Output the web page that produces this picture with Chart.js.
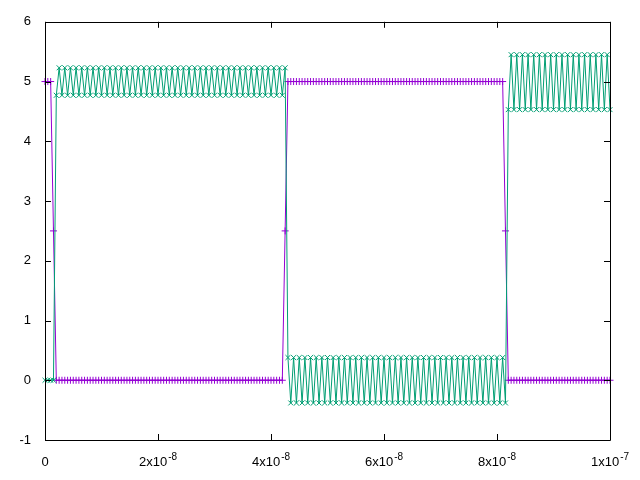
<!DOCTYPE html>
<html>
<head>
<meta charset="utf-8">
<script src="https://cdn.jsdelivr.net/npm/chart.js@4/dist/chart.umd.min.js"></script>
<style>
  html, body { margin: 0; padding: 0; background: #fff; }
  canvas { display: block; }
</style>
</head>
<body>
<canvas id="myChart" width="640" height="480"></canvas>
<script>
'use strict'

// sample times in ns (0.5 ns step)
const timeNs = [
    0,0.5,1,1.5,2,2.5,3,3.5,4,4.5,5,5.5,6,6.5,7,7.5,8,8.5,9,9.5,
    10,10.5,11,11.5,12,12.5,13,13.5,14,14.5,15,15.5,16,16.5,17,17.5,18,18.5,19,19.5,
    20,20.5,21,21.5,22,22.5,23,23.5,24,24.5,25,25.5,26,26.5,27,27.5,28,28.5,29,29.5,
    30,30.5,31,31.5,32,32.5,33,33.5,34,34.5,35,35.5,36,36.5,37,37.5,38,38.5,39,39.5,
    40,40.5,41,41.5,42,42.5,43,43.5,44,44.5,45,45.5,46,46.5,47,47.5,48,48.5,49,49.5,
    50,50.5,51,51.5,52,52.5,53,53.5,54,54.5,55,55.5,56,56.5,57,57.5,58,58.5,59,59.5,
    60,60.5,61,61.5,62,62.5,63,63.5,64,64.5,65,65.5,66,66.5,67,67.5,68,68.5,69,69.5,
    70,70.5,71,71.5,72,72.5,73,73.5,74,74.5,75,75.5,76,76.5,77,77.5,78,78.5,79,79.5,
    80,80.5,81,81.5,82,82.5,83,83.5,84,84.5,85,85.5,86,86.5,87,87.5,88,88.5,89,89.5,
    90,90.5,91,91.5,92,92.5,93,93.5,94,94.5,95,95.5,96,96.5,97,97.5,98,98.5,99,99.5,
    100
];

// purple trace (+ markers)
const inputV = [
    5,5,5,2.5,
    0,0,0,0,0,0,0,0,0,0,0,0,0,0,0,0,0,0,0,0,
    0,0,0,0,0,0,0,0,0,0,0,0,0,0,0,0,0,0,0,0,
    0,0,0,0,0,0,0,0,0,0,0,0,0,0,0,0,0,0,0,0,
    0,0,0,0,0,0,0,0,0,0,0,0,0,0,0,0,0,0,0,0,
    0,
    2.5,
    5,5,5,5,5,5,5,5,5,5,5,5,5,5,5,5,5,5,5,5,
    5,5,5,5,5,5,5,5,5,5,5,5,5,5,5,5,5,5,5,5,
    5,5,5,5,5,5,5,5,5,5,5,5,5,5,5,5,5,5,5,5,
    5,5,5,5,5,5,5,5,5,5,5,5,5,5,5,5,5,
    2.5,
    0,0,0,0,0,0,0,0,0,0,0,0,0,0,0,0,0,0,0,0,
    0,0,0,0,0,0,0,0,0,0,0,0,0,0,0,0,0
];

// teal trace (x markers)
const outputV = [
    0,0,0,0,
    4.77,5.23,4.77,5.23,4.77,5.23,4.77,5.23,4.77,5.23,4.77,5.23,4.77,5.23,4.77,5.23,4.77,5.23,4.77,5.23,
    4.77,5.23,4.77,5.23,4.77,5.23,4.77,5.23,4.77,5.23,4.77,5.23,4.77,5.23,4.77,5.23,4.77,5.23,4.77,5.23,
    4.77,5.23,4.77,5.23,4.77,5.23,4.77,5.23,4.77,5.23,4.77,5.23,4.77,5.23,4.77,5.23,4.77,5.23,4.77,5.23,
    4.77,5.23,4.77,5.23,4.77,5.23,4.77,5.23,4.77,5.23,4.77,5.23,4.77,5.23,4.77,5.23,4.77,5.23,4.77,5.23,
    4.77,5.23,
    0.38,-0.38,0.38,-0.38,0.38,-0.38,0.38,-0.38,0.38,-0.38,0.38,-0.38,0.38,-0.38,0.38,-0.38,0.38,-0.38,0.38,-0.38,
    0.38,-0.38,0.38,-0.38,0.38,-0.38,0.38,-0.38,0.38,-0.38,0.38,-0.38,0.38,-0.38,0.38,-0.38,0.38,-0.38,0.38,-0.38,
    0.38,-0.38,0.38,-0.38,0.38,-0.38,0.38,-0.38,0.38,-0.38,0.38,-0.38,0.38,-0.38,0.38,-0.38,0.38,-0.38,0.38,-0.38,
    0.38,-0.38,0.38,-0.38,0.38,-0.38,0.38,-0.38,0.38,-0.38,0.38,-0.38,0.38,-0.38,0.38,-0.38,0.38,-0.38,
    4.53,5.45,4.53,5.45,4.53,5.45,4.53,5.45,4.53,5.45,4.53,5.45,4.53,5.45,4.53,5.45,4.53,5.45,4.53,5.45,
    4.53,5.45,4.53,5.45,4.53,5.45,4.53,5.45,4.53,5.45,4.53,5.45,4.53,5.45,4.53,5.45,
    4.53
];

const xTickValues = [0, 20, 40, 60, 80, 100];
const xTickBase = ['0', '2x10', '4x10', '6x10', '8x10', '1x10'];
const xTickExp = ['', '-8', '-8', '-8', '-8', '-7'];
const yTickValues = [-1, 0, 1, 2, 3, 4, 5, 6];

const FAMILY = '"Liberation Sans", Arial, sans-serif';
const FONT = { family: FAMILY, size: 13 };

// gnuplot style frame with inward ticks on all four sides, plus x labels with superscripts
const framePlugin = {
    id: 'frame',
    afterDatasetsDraw(chart) {
        const ctx = chart.ctx;
        const a = chart.chartArea;
        const xs = chart.scales.x;
        const ys = chart.scales.y;
        const tl = 6;
        ctx.save();
        ctx.strokeStyle = '#000';
        ctx.lineWidth = 1;
        ctx.beginPath();
        ctx.rect(Math.round(a.left) + 0.5, Math.round(a.top) + 0.5,
            Math.round(a.right - a.left), Math.round(a.bottom - a.top));
        yTickValues.forEach(v => {
            let y = Math.round(ys.getPixelForValue(v)) + 0.5;
            ctx.moveTo(a.left, y);
            ctx.lineTo(a.left + tl, y);
            ctx.moveTo(a.right, y);
            ctx.lineTo(a.right - tl, y);
        });
        xTickValues.forEach(v => {
            let x = Math.round(xs.getPixelForValue(v)) + 0.5;
            ctx.moveTo(x, a.bottom);
            ctx.lineTo(x, a.bottom - tl);
            ctx.moveTo(x, a.top);
            ctx.lineTo(x, a.top + tl);
        });
        ctx.stroke();

        // x tick labels: mantissa + raised exponent
        ctx.fillStyle = '#000';
        ctx.textBaseline = 'alphabetic';
        ctx.textAlign = 'left';
        const baseY = a.bottom + 26;
        xTickValues.forEach((v, i) => {
            ctx.font = '13px ' + FAMILY;
            const wb = ctx.measureText(xTickBase[i]).width;
            ctx.font = '10px ' + FAMILY;
            const we = xTickExp[i] ? ctx.measureText(xTickExp[i]).width + 1 : 0;
            let x = xs.getPixelForValue(v) - (wb + we) / 2;
            ctx.font = '13px ' + FAMILY;
            ctx.fillText(xTickBase[i], x, baseY);
            if (xTickExp[i]) {
                ctx.font = '10px ' + FAMILY;
                ctx.fillText(xTickExp[i], x + wb + 1, baseY - 6);
            }
        });
        ctx.restore();
    }
};

const ctx = document.getElementById('myChart').getContext('2d');
new Chart(ctx, {
    type: 'line',
    data: {
        datasets: [{
            label: 'out',
            data: timeNs.map((t, i) => ({ x: t, y: outputV[i] })),
            borderColor: '#009e73',
            backgroundColor: '#009e73',
            borderWidth: 1,
            pointStyle: 'crossRot',
            pointRadius: 3.5,
            pointBorderWidth: 1,
            pointBorderColor: '#009e73',
            order: 0,
            clip: false,
        }, {
            label: 'in',
            data: timeNs.map((t, i) => ({ x: t, y: inputV[i] })),
            borderColor: '#9400d3',
            backgroundColor: '#9400d3',
            borderWidth: 1,
            pointStyle: 'cross',
            pointRadius: 3.5,
            pointBorderWidth: 1,
            pointBorderColor: '#9400d3',
            order: 1,
            clip: false,
        }]
    },
    options: {
        responsive: false,
        animation: false,
        events: [],
        layout: { padding: { top: 20, right: 30, left: 0, bottom: 0 } },
        plugins: { legend: { display: false }, tooltip: { enabled: false } },
        scales: {
            x: {
                type: 'linear',
                min: 0,
                max: 100,
                afterFit: s => { s.height = 40; },
                afterBuildTicks: s => { s.ticks = xTickValues.map(v => ({ value: v })); },
                grid: { display: false, drawTicks: false },
                border: { display: false },
                ticks: { display: false }
            },
            y: {
                type: 'linear',
                min: -1,
                max: 6,
                afterFit: s => { s.width = 45; },
                afterBuildTicks: s => { s.ticks = yTickValues.map(v => ({ value: v })); },
                grid: { display: false, drawTicks: false },
                border: { display: false },
                ticks: {
                    color: '#000',
                    font: FONT,
                    padding: 14,
                    autoSkip: false
                }
            }
        }
    },
    plugins: [framePlugin]
});
</script>
</body>
</html>
